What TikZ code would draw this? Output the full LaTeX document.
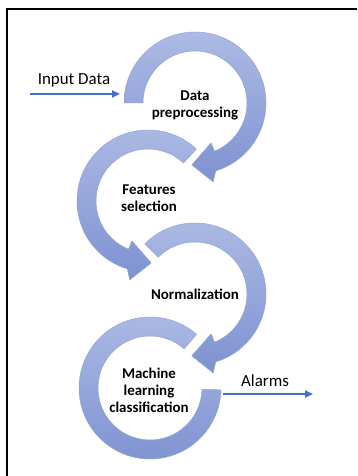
\documentclass[tikz,border=0pt]{standalone}
\usepackage{fontspec}
\setmainfont{Carlito}
\usetikzlibrary{arrows.meta}
\definecolor{bandtop}{RGB}{172,186,228}
\definecolor{bandbot}{RGB}{126,146,209}
\definecolor{bandline}{RGB}{150,166,212}
\definecolor{flowblue}{RGB}{68,114,196}
\begin{document}
\begin{tikzpicture}[x=1bp,y=1bp,
  band/.style={draw=bandline, line width=0.5bp, top color=bandtop, bottom color=bandbot, line join=round},
  flow/.style={draw=flowblue, line width=2bp, -{Triangle[length=8bp,width=7bp]}},
  steplabel/.style={font=\bfseries\fontsize{15}{17}\selectfont, align=center, inner sep=0pt, text=black},
  plainlabel/.style={font=\fontsize{17}{20}\selectfont, inner sep=0pt, anchor=base, text=black}]
\useasboundingbox (0,0) rectangle (357,476);
\fill[white] (0,0) rectangle (357,476);
\draw[line width=1.3bp] (7,0) -- (7,467) -- (357,467);

% arc 4: Machine learning classification
\path[band, shift={(150,88)}] (49:71) arc[start angle=49, end angle=358.5, radius=71]
  -- (358.5:52) arc[start angle=358.5, end angle=49, radius=52] -- cycle;
% arc 3: Normalization
\path[band, shift={(195,182)}] (135:71) arc[start angle=135, end angle=-73, radius=71]
  -- (-77:81) -- (-93:62) -- (-68:43) -- (-68:52) arc[start angle=-68, end angle=135, radius=52] -- cycle;
% arc 2: Features selection
\path[band, shift={(148,275)}] (47:71) arc[start angle=47, end angle=253, radius=71]
  -- (257:81) -- (273:62) -- (248:43) -- (248:52) arc[start angle=248, end angle=47, radius=52] -- cycle;
% arc 1: Data preprocessing
\path[band, shift={(195,373)}] (180:71) arc[start angle=180, end angle=-73, radius=71]
  -- (-77:81) -- (-93:62) -- (-68:43) -- (-68:52) arc[start angle=-68, end angle=180, radius=52] -- cycle;

\node[steplabel] (s1) at (195,371) {Data\\preprocessing};
\node[steplabel] (s2) at (149,277.5) {Features\\selection};
\node[steplabel] (s3) at (195,182) {Normalization};
\node[steplabel] (s4) at (149,86) {Machine\\learning\\classification};

\node[plainlabel] (inlabel) at (74,391) {Input Data};
\node[plainlabel] (alarmlabel) at (265,89) {Alarms};

\coordinate (inA) at (30,382);
\coordinate (inB) at (120,382);
\draw[flow] (inA) -- (inB);
\coordinate (outA) at (223,82);
\coordinate (outB) at (313,82);
\draw[flow] (outA) -- (outB);
\end{tikzpicture}
\end{document}
